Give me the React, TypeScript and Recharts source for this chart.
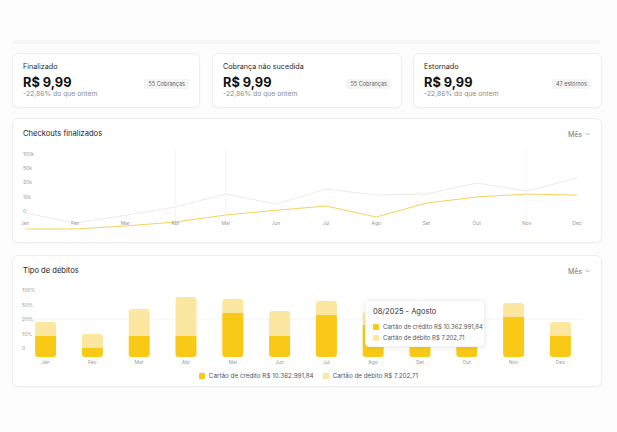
import React from 'react';
import { LineChart, Line, XAxis, YAxis, BarChart, Bar, Legend, Tooltip, ReferenceLine, CartesianGrid } from 'recharts';

const months = ['Jan', 'Fev', 'Mar', 'Abr', 'Mai', 'Jun', 'Jul', 'Ago', 'Set', 'Out', 'Nov', 'Dez'];
const monthNames = ['Janeiro', 'Fevereiro', 'Março', 'Abril', 'Maio', 'Junho', 'Julho', 'Agosto', 'Setembro', 'Outubro', 'Novembro', 'Dezembro'];
const year = '2025';
const checkoutTickLabels = ['0', '10k', '20k', '50k', '100k'];
const debitTickLabels = ['0', '10%', '20%', '50%', '100%'];
// values measured in axis-tick steps
const checkoutsPrevious = [-0.14, -0.84, -0.3, 0.28, 1.19, 0.49, 1.54, 1.12, 1.19, 1.96, 1.4, 2.32];
const checkoutsCurrent = [-1.26, -1.26, -1.05, -0.77, -0.28, 0.05, 0.35, -0.42, 0.56, 0.98, 1.19, 1.12];
const creditValues = [1.45, 0.62, 1.45, 1.45, 3.03, 1.45, 2.9, 2.2, 1.45, 2.0, 2.76, 1.45];
const debitValues = [0.97, 0.97, 1.86, 2.69, 0.97, 1.72, 0.97, 0.9, 1.3, 1.0, 0.97, 0.97];
const debitTickBase = 0.62; // the "0" tick sits above the bars' base
const seriesLabels = ['Cartão de crédito', 'Cartão de débito'];
const seriesTotals = ['R$ 10.362.991,84', 'R$ 7.202,71'];
const kpiTitles = ['Finalizado', 'Cobrança não sucedida', 'Estornado'];
const kpiValues = ['R$ 9,99', 'R$ 9,99', 'R$ 9,99'];
const kpiChanges = ['-22,86% do que ontem', '-22,86% do que ontem', '-22,86% do que ontem'];
const kpiBadges = ['55 Cobranças', '55 Cobranças', '47 estornos'];

const DARK = '#F8CA17';
const LIGHT = '#FBE7A0';
const FONT = 'Inter, "Noto Sans", sans-serif';

const lineData = months.map((m, i) => ({ m, prev: checkoutsPrevious[i], cur: checkoutsCurrent[i] }));
const barData = months.map((m, i) => ({ m, credit: creditValues[i], debit: debitValues[i] }));
const checkoutTicks = checkoutTickLabels.map((_, i) => i);
const debitTicks = debitTickLabels.map((_, i) => i + debitTickBase);

const cardStyle: React.CSSProperties = {
  position: 'absolute',
  background: '#fff',
  border: '1px solid #efefef',
  borderRadius: 6,
  boxShadow: '0 1px 2px rgba(0,0,0,0.03)',
  boxSizing: 'border-box',
};

const XTickLine = (props: any) => (
  <text x={props.x} y={props.y} dy={-9.4} textAnchor="middle" dominantBaseline="central" fontSize={5} fill="#9a9a9a" fontFamily={FONT}>
    {props.payload.value}
  </text>
);
const YTickLine = (props: any) => (
  <text x={props.x} y={props.y} dx={-2} textAnchor="start" dominantBaseline="central" fontSize={5} fill="#9a9a9a" fontFamily={FONT}>
    {checkoutTickLabels[Math.round(props.payload.value)]}
  </text>
);
const XTickBar = (props: any) => (
  <text x={props.x} y={props.y} dy={4.5} textAnchor="middle" dominantBaseline="central" fontSize={5} fill="#9a9a9a" fontFamily={FONT}>
    {props.payload.value}
  </text>
);
const YTickBar = (props: any) => (
  <text x={props.x} y={props.y} textAnchor="start" dominantBaseline="central" fontSize={5} fill="#9a9a9a" fontFamily={FONT}>
    {debitTickLabels[Math.round(props.payload.value - debitTickBase)]}
  </text>
);

const Square = ({ color }: { color: string }) => (
  <span style={{ display: 'inline-block', flex: 'none', width: 6, height: 6, background: color, borderRadius: 1, marginRight: 4 }} />
);

const LegendContent = () => (
  <div style={{ display: 'flex', justifyContent: 'center', alignItems: 'center', fontFamily: FONT, fontSize: 6.3, color: '#555', lineHeight: '10px', whiteSpace: 'nowrap' }}>
    <span style={{ display: 'flex', alignItems: 'center', marginRight: 9 }}>
      <Square color={DARK} />
      {seriesLabels[0]} {seriesTotals[0]}
    </span>
    <span style={{ display: 'flex', alignItems: 'center' }}>
      <Square color={LIGHT} />
      {seriesLabels[1]} {seriesTotals[1]}
    </span>
  </div>
);

const TooltipContent = (props: any) => {
  const { active, label } = props;
  if (!active) return null;
  const idx = months.indexOf(label);
  return (
    <div style={{ width: 120, height: 47, boxSizing: 'border-box', background: '#fff', borderRadius: 4, boxShadow: '0 1px 6px rgba(0,0,0,0.08)', border: '1px solid #f2f2f2', padding: '6px 7px', fontFamily: FONT, whiteSpace: 'nowrap' }}>
      <div style={{ fontSize: 7.5, color: '#333', lineHeight: '10px' }}>{`${String(idx + 1).padStart(2, '0')}/${year} - ${monthNames[idx]}`}</div>
      <div style={{ fontSize: 6, color: '#555', lineHeight: '11px', marginTop: 4, display: 'flex', alignItems: 'center' }}>
        <Square color={DARK} />{seriesLabels[0]} {seriesTotals[0]}
      </div>
      <div style={{ fontSize: 6, color: '#555', lineHeight: '11px', display: 'flex', alignItems: 'center' }}>
        <Square color={LIGHT} />{seriesLabels[1]} {seriesTotals[1]}
      </div>
    </div>
  );
};

const Chevron = () => (
  <svg width="5" height="4" viewBox="0 0 5 4" style={{ marginLeft: 3 }}>
    <path d="M0.5 1 L2.5 3 L4.5 1" stroke="#999" strokeWidth="0.7" fill="none" />
  </svg>
);

const MonthPicker = ({ top }: { top: number }) => (
  <div style={{ position: 'absolute', left: 568, top: top - 5, height: 10, display: 'flex', alignItems: 'center', fontFamily: FONT, fontSize: 7, color: '#777' }}>
    Mês<Chevron />
  </div>
);

const kpiLefts = [12, 212, 413];
const kpiWidths = [188, 190, 189];

export default function App() {
  return (
    <div style={{ position: 'absolute', left: 0, top: 0, width: 617, height: 432, background: '#fdfdfd', fontFamily: FONT, overflow: 'hidden' }}>
      <div style={{ position: 'absolute', left: 13, top: 40, width: 587, height: 4, background: '#f6f6f6', borderRadius: 2 }} />

      {kpiTitles.map((t, i) => (
        <div key={t} style={{ ...cardStyle, left: kpiLefts[i], top: 53, width: kpiWidths[i], height: 55 }}>
          <div style={{ position: 'absolute', left: 10, top: 8, fontSize: 7.2, lineHeight: '10px', color: '#2a2a2a' }}>{t}</div>
          <div style={{ position: 'absolute', left: 10, top: 21, fontSize: 12.8, lineHeight: '16px', fontWeight: 700, color: '#111' }}>{kpiValues[i]}</div>
          <div style={{ position: 'absolute', left: 10, top: 35, fontSize: 6.8, lineHeight: '10px', color: '#8c8c8c' }}>{kpiChanges[i]}</div>
          <div style={{ position: 'absolute', right: 10, top: 25, height: 10, padding: '0 4px', background: '#f4f4f4', borderRadius: 2, fontSize: 5.5, lineHeight: '10px', color: '#666' }}>{kpiBadges[i]}</div>
        </div>
      ))}

      <div style={{ ...cardStyle, left: 12, top: 118, width: 590, height: 125 }} />
      <div style={{ position: 'absolute', left: 23, top: 129, fontSize: 7.6, lineHeight: '10px', color: '#222' }}>Checkouts finalizados</div>
      <MonthPicker top={134} />
      <div style={{ position: 'absolute', left: 0, top: 140 }}>
        <LineChart width={617} height={100} data={lineData} margin={{ top: 9.7, bottom: 6.6, left: 25, right: 40 }}>
          <XAxis dataKey="m" height={1} axisLine={false} tickLine={false} tickSize={0} tickMargin={0} tick={<XTickLine />} interval={0} />
          <YAxis type="number" domain={[-1.5, 4.3]} ticks={checkoutTicks} interval={0} mirror axisLine={false} tickLine={false} tickSize={0} tickMargin={0} tick={<YTickLine />} width={1} />
          <ReferenceLine x="Abr" stroke="#f4f4f4" strokeWidth={0.8} />
          <ReferenceLine x="Mai" stroke="#f4f4f4" strokeWidth={0.8} />
          <ReferenceLine x="Nov" stroke="#f6f6f6" strokeWidth={0.8} />
          <Line type="linear" dataKey="prev" stroke="#ebebeb" strokeWidth={1} dot={false} isAnimationActive={false} />
          <Line type="linear" dataKey="cur" stroke="#F6D25C" strokeWidth={1} dot={false} isAnimationActive={false} />
        </LineChart>
      </div>

      <div style={{ ...cardStyle, left: 12, top: 255, width: 590, height: 132 }} />
      <div style={{ position: 'absolute', left: 23, top: 266, fontSize: 7.6, lineHeight: '10px', color: '#222' }}>Tipo de débitos</div>
      <MonthPicker top={271} />
      <div style={{ position: 'absolute', left: 0, top: 280 }}>
        <BarChart width={617} height={107} data={barData} margin={{ top: 4.5, bottom: 29, left: 22.1, right: 33.3 }}>
          <CartesianGrid vertical={false} horizontalValues={[debitTicks[2]]} stroke="#f2f2f2" strokeWidth={0.8} />
          <XAxis dataKey="m" height={1} axisLine={false} tickLine={false} tickSize={0} tickMargin={0} tick={<XTickBar />} interval={0} />
          <YAxis type="number" domain={[0, 5]} ticks={debitTicks} interval={0} mirror axisLine={false} tickLine={false} tickSize={0} tickMargin={0} tick={<YTickBar />} width={1} />
          <Bar dataKey="credit" stackId="a" fill={DARK} barSize={21} radius={[0, 0, 3, 3]} isAnimationActive={false} />
          <Bar dataKey="debit" stackId="a" fill={LIGHT} barSize={21} radius={[3, 3, 0, 0]} isAnimationActive={false} />
          <Legend verticalAlign="middle" align="center" layout="horizontal" content={<LegendContent />} wrapperStyle={{ top: 91, left: 0, width: 617 }} />
          <Tooltip defaultIndex={7} active={true} cursor={false} position={{ x: 365, y: 20 }} content={<TooltipContent />} isAnimationActive={false} wrapperStyle={{ outline: 'none' }} />
        </BarChart>
      </div>
    </div>
  );
}
